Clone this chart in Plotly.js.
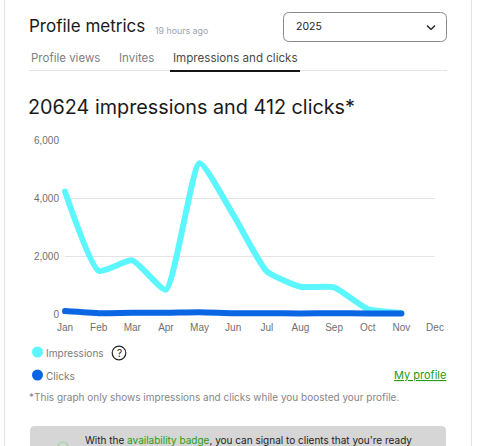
<!DOCTYPE html>
<html><head><meta charset="utf-8">
<script src="https://cdn.plot.ly/plotly-3.0.1.min.js"></script>
<style>html,body{margin:0;padding:0;background:#fff;overflow:hidden}
.js-line{stroke-linecap:round}
.cartesianlayer .overplot g{clip-path:none!important}</style>
</head><body><div id="chart" style="width:481px;height:446px"></div>
<script>
const months = ["Jan","Feb","Mar","Apr","May","Jun","Jul","Aug","Sep","Oct","Nov","Dec"];
const impressions = [4220,1490,1850,840,5200,3430,1470,940,920,170,35];
const clicks = [100,30,45,40,60,25,25,20,30,20,17];
const yTicks = [0,2000,4000,6000];
const yTickLabels = ["0","2,000","4,000","6,000"];
const tabs = ["Profile views","Invites","Impressions and clicks"];
const W=481,H=446;
const m={l:65,r:46,t:140,b:132};
const pw=W-m.l-m.r, ph=H-m.t-m.b;
const px=x=>(x-m.l)/pw, py=y=>1-(y-m.t)/ph;
const sans='Inter, "Liberation Sans", sans-serif';
const axisFont={family:'"Liberation Sans",Arial,sans-serif',size:10,color:'#6f6f6f'};
function note(text,x,y,size,color,anchor){
  return {text:text,x:px(x),y:py(y),xref:'paper',yref:'paper',xanchor:anchor||'left',yanchor:'middle',showarrow:false,
    font:{family:sans,size:size,color:color},borderpad:0};
}
function circ(cx,cy,r,fill,line,lw){return {type:'circle',xref:'paper',yref:'paper',x0:px(cx-r),x1:px(cx+r),y0:py(cy+r),y1:py(cy-r),fillcolor:fill,line:{color:line||fill,width:lw||0}};}
function seg(x0,y0,x1,y1,c,w){return {type:'line',xref:'paper',yref:'paper',x0:px(x0),x1:px(x1),y0:py(y0),y1:py(y1),line:{color:c,width:w}};}
function box(x0,y0,x1,y1,r,fill,line,lw){
  const a=px(x0),b=px(x1),c=py(y0),d=py(y1),rx=r/pw,ry=r/ph;
  return {type:'path',xref:'paper',yref:'paper',layer:'below',fillcolor:fill,line:{color:line||fill,width:lw||0},
    path:`M${a+rx} ${c}L${b-rx} ${c}Q${b} ${c} ${b} ${c-ry}L${b} ${d+ry}Q${b} ${d} ${b-rx} ${d}L${a+rx} ${d}Q${a} ${d} ${a} ${d+ry}L${a} ${c-ry}Q${a} ${c} ${a+rx} ${c}Z`};
}
const shapes=[
  seg(4.5,0,4.5,446,'#e4e4e4',1), seg(471.5,0,471.5,446,'#e4e4e4',1),
  seg(29,70.5,447,70.5,'#e4e4e4',1),
  seg(170,71,300,71,'#151515',2),
  circ(37.5,352,5.5,'#5cf6ff'), circ(37.5,375,5.5,'#0b66e4'),
  circ(119,353,6.8,'rgba(0,0,0,0)','#222',1.2),
  box(283.5,12.5,446.5,41.5,6,'#fff','#8a8a8a',1),
  box(30,426,446,470,5,'#d6d6d6'),
  seg(427,25.5,431,29.5,'#222',1.4), seg(431,29.5,435,25.5,'#222',1.4),
  circ(63,447,5,'rgba(0,0,0,0)','#9ed89a',1.2)
];
const annotations=[
  note('Profile metrics',27.5,26,17,'#1a1a1a'),
  note('19 hours ago',153.5,30,8.8,'#9aa3ad'),
  note('2025',295,26.5,10.5,'#222'),
  note(tabs[0],30,58,11.5,'#808080'),
  note(tabs[1],117.5,58,11.5,'#808080'),
  note(tabs[2],171.5,58,11.6,'#4a4a4a'),
  note('20624 impressions and 412 clicks*',27,107,19.8,'#1a1a1a'),
  note('Impressions',44.5,352.5,10.1,'#7c7c7c'),
  note('?',119,353,10,'#222','center'),
  note('Clicks',44.5,375.5,10.1,'#7c7c7c'),
  note('<u>My profile</u>',446.5,375,11,'#2a9a10','right'),
  note('*This graph only shows impressions and clicks while you boosted your profile.',28,397,10,'#858585'),
  note('With the <span style="color:#2a9a10">availability badge</span>, you can signal to clients that you\'re ready',84,440,10,'#222')
];
Plotly.newPlot('chart',[
  {x:months.slice(0,impressions.length),y:impressions,name:'Impressions',type:'scatter',mode:'lines',line:{color:'#5cf6ff',width:6,shape:'spline',smoothing:0.5}},
  {x:months.slice(0,clicks.length),y:clicks,name:'Clicks',type:'scatter',mode:'lines',line:{color:'#0b66e4',width:6,shape:'spline',smoothing:0.5}}
],{
  width:W,height:H,margin:m,showlegend:false,paper_bgcolor:'#fff',plot_bgcolor:'rgba(0,0,0,0)',
  xaxis:{type:'category',categoryorder:'array',categoryarray:months,tickvals:months,ticktext:months,range:[0,11],showgrid:false,zeroline:false,showline:false,ticks:'',tickangle:0,automargin:false,ticklabelstandoff:6,tickfont:axisFont},
  yaxis:{range:[0,6000],tickvals:yTicks,ticktext:yTickLabels,gridcolor:'#e4e4e4',gridwidth:1,zeroline:false,showline:false,ticks:'',automargin:false,ticklabelstandoff:5,tickfont:axisFont},
  shapes:shapes,annotations:annotations
},{displayModeBar:false,staticPlot:true});
</script></body></html>
